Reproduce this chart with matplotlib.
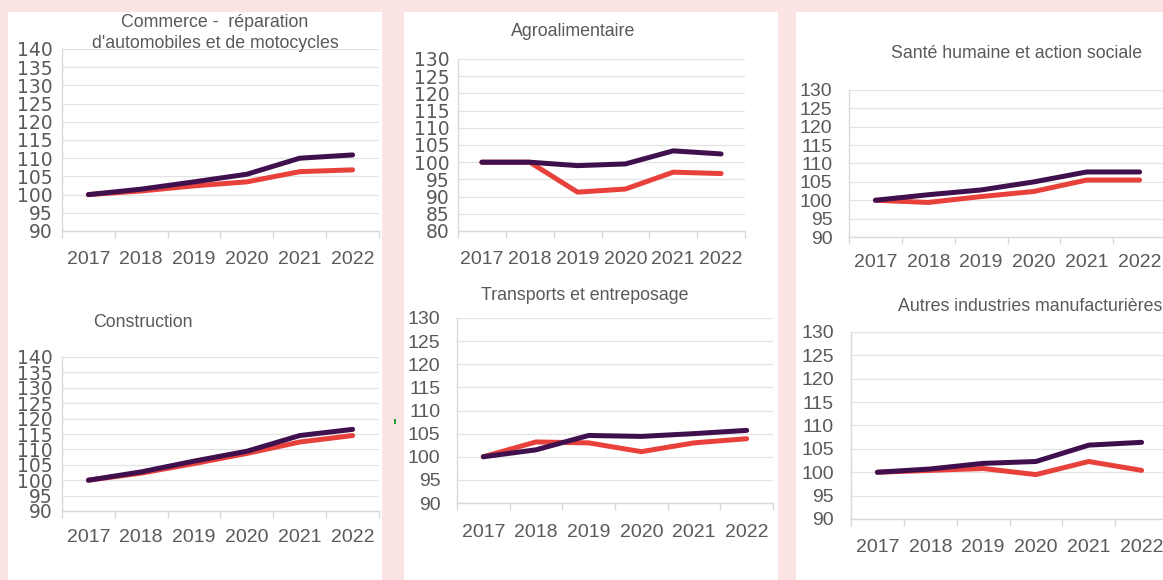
import matplotlib.pyplot as plt
from matplotlib.patches import Rectangle

plt.rcParams['font.family'] = ['Liberation Sans', 'DejaVu Sans']

# figure size in pixels
W, H = 1163, 580

years = ['2017', '2018', '2019', '2020', '2021', '2022']

titles = ["Commerce -  réparation\nd'automobiles et de motocycles",
          "Agroalimentaire",
          "Santé humaine et action sociale",
          "Construction",
          "Transports et entreposage",
          "Autres industries manufacturières"]

# dark purple series
commerce_a = [100, 101.5, 103.5, 105.6, 110.0, 110.9]
agro_a = [100, 100, 99.0, 99.5, 103.3, 102.4]
sante_a = [100, 101.5, 102.8, 105.0, 107.7, 107.7]
construction_a = [100, 102.7, 106.2, 109.4, 114.5, 116.5]
transports_a = [100, 101.5, 104.6, 104.4, 105.0, 105.7]
autres_a = [100, 100.7, 101.9, 102.3, 105.8, 106.4]

# red series
commerce_b = [100, 101.0, 102.4, 103.5, 106.3, 106.8]
agro_b = [100, 100, 91.3, 92.2, 97.1, 96.7]
sante_b = [100, 99.4, 101.0, 102.4, 105.5, 105.5]
construction_b = [100, 102.3, 105.4, 108.7, 112.4, 114.5]
transports_b = [100, 103.2, 103.0, 101.1, 103.0, 103.9]
autres_b = [100, 100.4, 100.8, 99.5, 102.3, 100.4]

PINK = '#FCE4E4'
PURPLE = '#3F0F4E'
RED = '#E8413C'
TXT = '#595959'
GRID = '#E3E3E3'

fig = plt.figure(figsize=(W / 100, H / 100), dpi=100)
fig.patch.set_facecolor(PINK)


def box(l, t, r, b):
    return [l / W, 1 - b / H, (r - l) / W, (b - t) / H]


# white panels
for l, t, r, b in [(8, 12, 382, 580), (404, 12, 778, 580), (796, 12, 1163, 580)]:
    fig.patches.append(Rectangle((l / W, 1 - b / H), (r - l) / W, (b - t) / H,
                                 transform=fig.transFigure, facecolor='white',
                                 edgecolor='none', zorder=-2))
# small green mark
fig.patches.append(Rectangle((394 / W, 1 - 424 / H), 2 / W, 5 / H,
                             transform=fig.transFigure, facecolor='#2E9B3A',
                             edgecolor='none', zorder=-1))

# data, pixel box, y range, y pad, x pad, wide y labels
panels = [
    (commerce_a, commerce_b, (62, 49, 379, 231), (90, 140), 6.5, 14.5, True),
    (agro_a, agro_b, (458, 59, 745, 231), (80, 130), 6, 14.5, True),
    (sante_a, sante_b, (849, 90, 1166, 237), (90, 130), 12, 12.5, False),
    (construction_a, construction_b, (62, 357, 379, 511), (90, 140), 6.5, 13, True),
    (transports_a, transports_b, (457, 318, 773, 503), (90, 130), 12, 15, False),
    (autres_a, autres_b, (851, 332, 1168, 519), (90, 130), 12.5, 14.5, False),
]

for a, b, pos, ylim, ypad, xpad, wide in panels:
    ax = fig.add_axes(box(*pos))
    ax.set_facecolor('none')
    x = range(len(years))
    ax.plot(x, b, color=RED, lw=3.6, solid_capstyle='round', solid_joinstyle='round', zorder=3)
    ax.plot(x, a, color=PURPLE, lw=3.6, solid_capstyle='round', solid_joinstyle='round', zorder=4)
    ax.set_xlim(-0.5, len(years) - 0.5)
    ax.set_ylim(*ylim)
    ax.set_yticks(range(ylim[0], ylim[1] + 1, 5))
    ax.set_xticks(list(x))
    ax.set_xticklabels(years)
    ax.set_xticks([i - 0.5 for i in range(len(years) + 1)], minor=True)
    ax.tick_params(axis='x', which='major', length=0, pad=xpad, labelsize=14, labelcolor=TXT)
    ax.tick_params(axis='x', which='minor', length=5, color='#D9D9D9', width=1)
    ax.tick_params(axis='y', length=0, pad=ypad, labelsize=14, labelcolor=TXT)
    if wide:
        for lab in ax.get_yticklabels():
            lab.set_fontfamily('DejaVu Sans')
            lab.set_fontsize(13.5)
    ax.grid(axis='y', color=GRID, lw=0.9)
    ax.set_axisbelow(True)
    for s in ['top', 'right']:
        ax.spines[s].set_visible(False)
    for s in ['left', 'bottom']:
        ax.spines[s].set_color('#D9D9D9')
        ax.spines[s].set_linewidth(1)

# panel titles
title_pos = [(215, 33), (573, 32), (1017, 53), (143, 323), (585, 296), (1030, 306)]
for t, (px, py) in zip(titles, title_pos):
    fig.text(px / W, 1 - py / H, t, ha='center', va='center', fontsize=12.8,
             color=TXT, linespacing=1.3)

fig.savefig('out.png', dpi=100, facecolor=fig.get_facecolor())
